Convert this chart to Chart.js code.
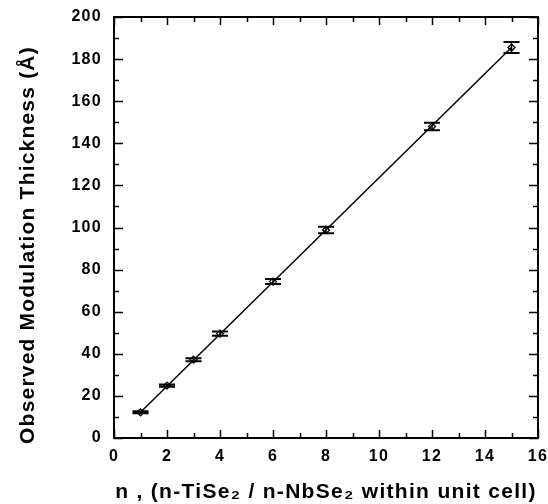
<!DOCTYPE html>
<html><head><meta charset="utf-8">
<script src="https://cdn.jsdelivr.net/npm/chart.js@4.4.0/dist/chart.umd.min.js"></script>
<style>html,body{margin:0;padding:0;background:#fff}#wrap{width:548px;height:504px}</style>
</head><body><div id="wrap"><canvas id="c" width="548" height="504"></canvas></div>
<script>
// ---- data ----
const nValues      = [1, 2, 3, 4, 6, 8, 12, 15];
const thickness    = [12.2, 24.9, 37.2, 49.6, 74.3, 98.8, 148.0, 185.5];
const thicknessErr = [0.5, 0.5, 0.7, 1.0, 1.2, 1.5, 1.8, 2.6];
const fitN         = [1, 15];
const fitThickness = [12.2, 185.5];
const xTitle = 'n , (n-TiSe\u2082 / n-NbSe\u2082 within unit cell)';
const yTitle = 'Observed Modulation Thickness (\u00C5)';

const FONT = "'Liberation Sans', Arial, Helvetica, sans-serif";

const spacingPlugin = {
  id: 'spacing',
  beforeUpdate(chart) { chart.ctx.letterSpacing = '1.3px'; },
  beforeDraw(chart) { chart.ctx.letterSpacing = '1.3px'; }
};

const errorBars = {
  id: 'errorBars',
  afterDatasetsDraw(chart) {
    const ctx = chart.ctx, xs = chart.scales.x, ys = chart.scales.y;
    ctx.save();
    ctx.strokeStyle = '#000';
    nValues.forEach((n, i) => {
      const x = xs.getPixelForValue(n);
      const yt = ys.getPixelForValue(thickness[i] + thicknessErr[i]);
      const yb = ys.getPixelForValue(thickness[i] - thicknessErr[i]);
      ctx.lineWidth = 1.5;
      ctx.beginPath(); ctx.moveTo(x, yt); ctx.lineTo(x, yb); ctx.stroke();
      ctx.lineWidth = 2;
      ctx.beginPath();
      ctx.moveTo(x - 8, yt); ctx.lineTo(x + 8, yt);
      ctx.moveTo(x - 8, yb); ctx.lineTo(x + 8, yb);
      ctx.stroke();
    });
    ctx.restore();
  }
};

const frameTicks = {
  id: 'frameTicks',
  afterDraw(chart) {
    const ctx = chart.ctx, a = chart.chartArea, xs = chart.scales.x, ys = chart.scales.y;
    ctx.save();
    ctx.strokeStyle = '#000';
    ctx.lineWidth = 1.5;
    ctx.beginPath();
    for (let v = xs.min; v <= xs.max; v += 1) {
      const x = Math.round(xs.getPixelForValue(v)) + 0.5;
      const len = (v % 2 === 0) ? 8 : 5;
      ctx.moveTo(x, a.bottom); ctx.lineTo(x, a.bottom - len);
      ctx.moveTo(x, a.top); ctx.lineTo(x, a.top + len);
    }
    for (let v = ys.min; v <= ys.max; v += 10) {
      const y = Math.round(ys.getPixelForValue(v)) + 0.5;
      const len = (v % 20 === 0) ? 9 : 5;
      ctx.moveTo(a.left, y); ctx.lineTo(a.left + len, y);
      ctx.moveTo(a.right, y); ctx.lineTo(a.right - len, y);
    }
    ctx.stroke();
    ctx.lineWidth = 2;
    ctx.strokeRect(a.left, a.top, a.right - a.left, a.bottom - a.top);
    // y-axis title
    ctx.fillStyle = '#000';
    ctx.font = 'bold 21px ' + FONT;
    ctx.letterSpacing = '1.2px';
    ctx.textAlign = 'center';
    ctx.textBaseline = 'middle';
    ctx.translate(28, 245);
    ctx.rotate(-Math.PI / 2);
    ctx.fillText(yTitle, 0, 0);
    ctx.restore();
  }
};

new Chart(document.getElementById('c'), {
  type: 'scatter',
  data: {
    datasets: [
      {
        type: 'line',
        data: fitN.map((n, i) => ({ x: n, y: fitThickness[i] })),
        borderColor: '#000', borderWidth: 1.5, pointRadius: 0, fill: false, tension: 0
      },
      {
        data: nValues.map((n, i) => ({ x: n, y: thickness[i] })),
        pointStyle: 'rectRot', pointRadius: 3.5, borderWidth: 1.3,
        borderColor: '#000', backgroundColor: '#fff'
      }
    ]
  },
  options: {
    responsive: false, animation: false, devicePixelRatio: 1,
    layout: { padding: { left: 0, right: 10, top: 17, bottom: -1 } },
    plugins: { legend: { display: false }, tooltip: { enabled: false } },
    scales: {
      x: {
        type: 'linear', min: 0, max: 16,
        grid: { display: false, drawTicks: false }, border: { display: false },
        ticks: { stepSize: 2, padding: 9, color: '#000', font: { family: FONT, size: 16, weight: 'bold' } },
        title: { display: true, text: xTitle, color: '#000', padding: { top: 2, bottom: 0 },
                 font: { family: FONT, size: 21, weight: 'bold' } },
        afterFit(s) { s.height = 67; s.paddingLeft = 0; s.paddingRight = 0; }
      },
      y: {
        type: 'linear', min: 0, max: 200,
        grid: { display: false, drawTicks: false }, border: { display: false },
        ticks: { stepSize: 20, padding: 12, color: '#000', font: { family: FONT, size: 16, weight: 'bold' } },
        afterFit(s) { s.width = 114; s.paddingTop = 0; s.paddingBottom = 0; }
      }
    }
  },
  plugins: [spacingPlugin, errorBars, frameTicks]
});
</script>
</body></html>
